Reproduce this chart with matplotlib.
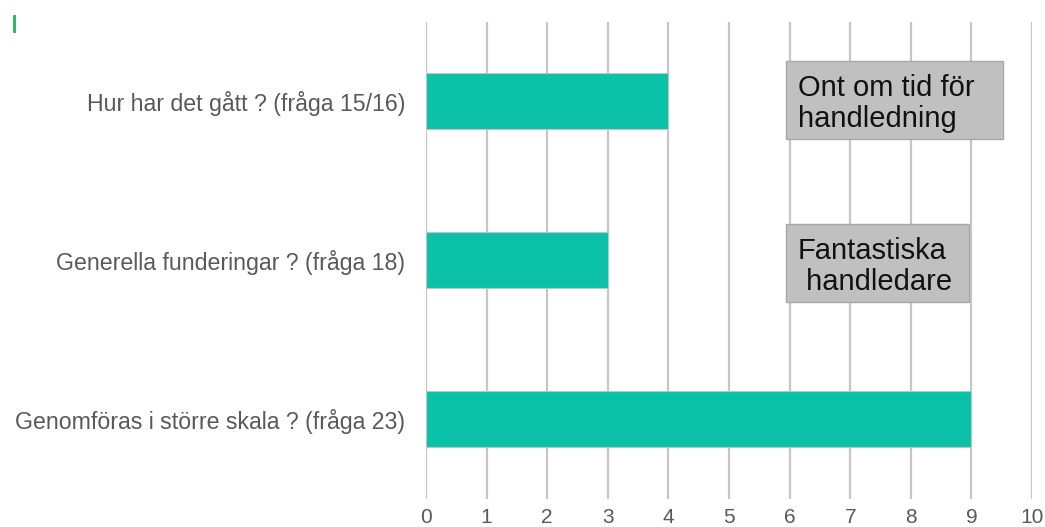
import matplotlib
matplotlib.use("Agg")
import matplotlib.pyplot as plt
from matplotlib.patches import Rectangle

plt.rcParams['font.family'] = ['Liberation Sans', 'DejaVu Sans']

categories = [
    "Hur har det gått ? (fråga 15/16)",
    "Generella funderingar ? (fråga 18)",
    "Genomföras i större skala ? (fråga 23)",
]
values = [4, 3, 9]
x_ticks = list(range(0, 11))

notes = ["Ont om tid för\nhandledning", "Fantastiska\n handledare"]

bar_color = "#0BC2A8"
grid_color = "#C6C6C6"
label_color = "#595959"

fig = plt.figure(figsize=(10.45, 5.27), dpi=100)
ax = fig.add_axes([426 / 1045, 1 - 498.5 / 527, 606 / 1045, 477 / 527])

y_pos = list(range(len(categories)))
ax.barh(y_pos, values, height=0.35, color=bar_color, edgecolor="#B5C9C4",
        linewidth=0.8, zorder=3)

ax.set_xlim(0, 10)
ax.set_ylim(len(categories) - 0.5, -0.5)
ax.set_xticks(x_ticks)
ax.set_xticklabels([str(t) for t in x_ticks], color=label_color, fontsize=15)
ax.set_yticks(y_pos)
ax.set_yticklabels(categories, color=label_color, fontsize=16.7)
ax.tick_params(axis="both", length=0)
ax.tick_params(axis="x", pad=6.5)
ax.tick_params(axis="y", pad=15)

for t in x_ticks:
    ax.axvline(t, color=grid_color, linewidth=1.6, zorder=1)
for s in ax.spines.values():
    s.set_visible(False)

# Comment boxes drawn beside the first two questions
box_specs = [(5.94, 9.52, -0.25, 0.24), (5.94, 8.96, 0.774, 1.264)]
for (x0, x1, y0, y1), txt in zip(box_specs, notes):
    ax.add_patch(Rectangle((x0, y0), x1 - x0, y1 - y0, facecolor="#C0C0C0",
                           edgecolor="#A8A8A8", linewidth=1.0, zorder=4))
    ax.text(x0 + 0.2, (y0 + y1) / 2 + 0.02, txt, ha="left", va="center",
            fontsize=21, color="#111111", linespacing=1.12, zorder=5)

# small green marker in the top-left corner
fig.patches.append(Rectangle((13 / 1045, 1 - 33 / 527), 3 / 1045, 18 / 527,
                             transform=fig.transFigure, facecolor="#2DB86A",
                             edgecolor="none"))

fig.savefig("out.png", dpi=100)
